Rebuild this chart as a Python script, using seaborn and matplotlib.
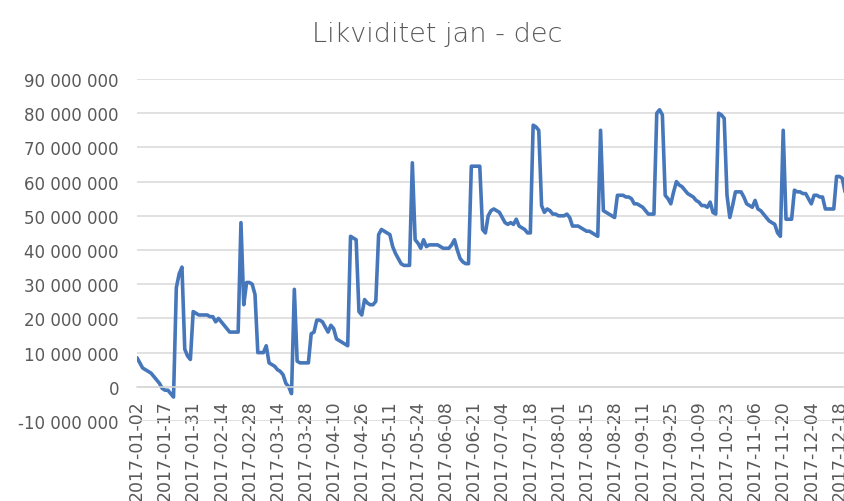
import numpy as np
import pandas as pd
import seaborn as sns
import matplotlib.pyplot as plt
from matplotlib.ticker import FuncFormatter

# likviditet per bankdag, i millioner kroner
likviditet_mill = [
    8.5, 7, 5.5, 5, 4.5, 4, 3, 2, 1, -0.5,
    -1, -1, -2, -3, 29, 33, 35, 11, 9, 8,
    22, 21.5, 21, 21, 21, 21, 20.5, 20.5, 19, 20,
    19, 18, 17, 16, 16, 16, 16, 48, 24, 30.5,
    30.5, 30, 27, 10, 10, 10, 12, 7, 6.5, 6,
    5, 4.5, 3.5, 1, 0, -2, 28.5, 7.5, 7, 7,
    7, 7, 15.5, 16, 19.5, 19.5, 19, 17.5, 16, 18,
    17, 14, 13.5, 13, 12.5, 12, 44, 43.5, 43, 22,
    21, 25.5, 24.5, 24, 24, 25, 44.5, 46, 45.5, 45,
    44.5, 41, 39, 37.5, 36, 35.5, 35.5, 35.5, 65.5, 43,
    42, 40.5, 43, 41, 41.5, 41.5, 41.5, 41.5, 41, 40.5,
    40.5, 40.5, 41.5, 43, 40, 37.5, 36.5, 36, 36, 64.5,
    64.5, 64.5, 64.5, 46, 45, 50, 51.5, 52, 51.5, 51,
    49.5, 48, 47.5, 48, 47.5, 49, 47, 46.5, 46, 45,
    45, 76.5, 76, 75, 53, 51, 52, 51.5, 50.5, 50.5,
    50, 50, 50, 50.5, 49.5, 47, 47, 47, 46.5, 46,
    45.5, 45.5, 45, 44.5, 44, 75, 51.5, 51, 50.5, 50,
    49.5, 56, 56, 56, 55.5, 55.5, 55, 53.5, 53.5, 53,
    52.5, 51.5, 50.5, 50.5, 50.5, 80, 81, 79.5, 56, 55,
    53.5, 57, 60, 59, 58.5, 57.5, 56.5, 56, 55.5, 54.5,
    54, 53, 53, 52.5, 54, 51, 50.5, 80, 79.5, 78.5,
    56, 49.5, 53, 57, 57, 57, 55.5, 53.5, 53, 52.5,
    54.5, 52, 51.5, 50.5, 49.5, 48.5, 48, 47.5, 45, 44,
    75, 49, 49, 49, 57.5, 57, 57, 56.5, 56.5, 55,
    53.5, 56, 56, 55.5, 55.5, 52, 52, 52, 52, 61.5,
    61.5, 61, 57, 54,
]

# hver 10. dato vises på aksen
dato_etiketter = [
    '2017-01-02', '2017-01-17', '2017-01-31', '2017-02-14', '2017-02-28',
    '2017-03-14', '2017-03-28', '2017-04-10', '2017-04-26', '2017-05-11',
    '2017-05-24', '2017-06-08', '2017-06-21', '2017-07-04', '2017-07-18',
    '2017-08-01', '2017-08-15', '2017-08-28', '2017-09-11', '2017-09-25',
    '2017-10-09', '2017-10-23', '2017-11-06', '2017-11-20', '2017-12-04',
    '2017-12-18',
]

df = pd.DataFrame({
    'dag': np.arange(len(likviditet_mill)),
    'likviditet': np.array(likviditet_mill) * 1e6,
})

sns.set_style('white')
plt.rcParams['font.family'] = ['DejaVu Sans']

fig = plt.figure(figsize=(8.45, 5.02), dpi=100)
ax = fig.add_axes([137 / 845, (502 - 422) / 502, 1 - 137 / 845, (422 - 80) / 502])

sns.lineplot(data=df, x='dag', y='likviditet', ax=ax, color='#4677BA', linewidth=2.6)

# x-aksen krysser ved 0 (som i Excel) - sett posisjon foer tick-oppsett
for s in ['left', 'right', 'top']:
    ax.spines[s].set_visible(False)
ax.spines['bottom'].set_position(('data', 0))
ax.spines['bottom'].set_color('#D9D9D9')
ax.spines['bottom'].set_linewidth(1.1)

ax.set_xlim(0, 252)
ax.set_ylim(-10e6, 90e6)
ax.set_yticks(np.arange(-10e6, 90e6 + 1, 10e6))
ax.yaxis.set_major_formatter(FuncFormatter(lambda v, p: f'{int(round(v)):,}'.replace(',', ' ')))
ax.grid(axis='y', color='#D9D9D9', linewidth=1.1)
ax.set_axisbelow(True)

ax.set_xticks(np.arange(0, 10 * len(dato_etiketter), 10))
ax.set_xticklabels(dato_etiketter)

ax.tick_params(axis='x', length=0, pad=9, labelsize=12.5, labelcolor='#595959', labelrotation=90)
ax.tick_params(axis='y', length=0, pad=13, labelsize=12, labelcolor='#595959')
ax.set_xlabel('')
ax.set_ylabel('')

fig.text(437 / 845, 1 - 42 / 502, 'Likviditet jan - dec', ha='center', va='baseline',
         fontsize=19.5, color='#595959', fontweight='light')

fig.savefig('out.png', dpi=100)
